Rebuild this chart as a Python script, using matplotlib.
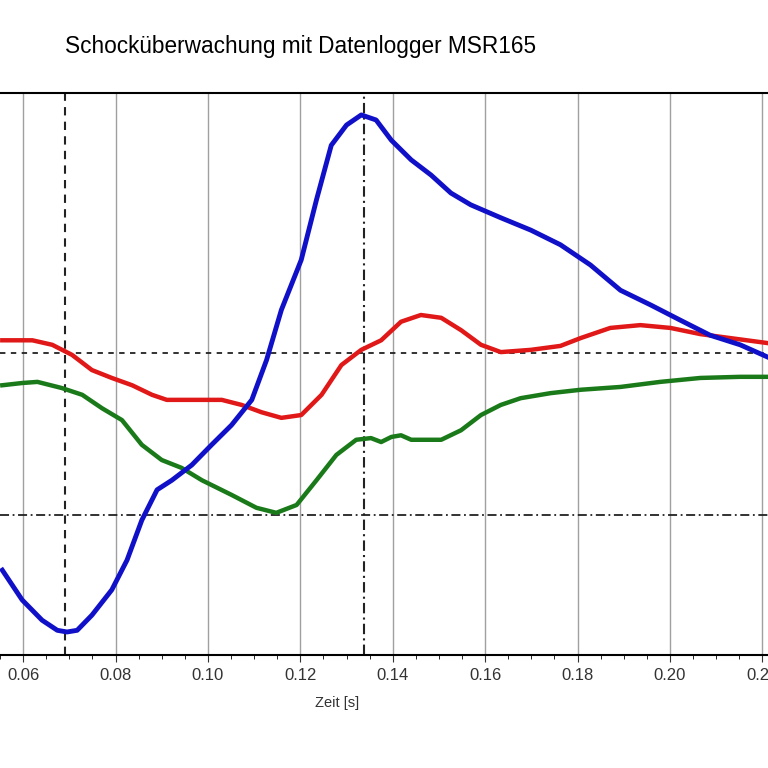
import matplotlib
matplotlib.use("Agg")
import matplotlib.pyplot as plt
import numpy as np

plt.rcParams["font.family"] = "Liberation Sans"

t_blue = [.0555, .0598, .0641, .0674, .0695, .0717, .0749, .0792, .0825, .0857, .0890, .0922, .0965,
          .1008, .1051, .1095, .1127, .1159, .1202, .1235, .1267, .1300, .1332, .1364, .1397, .1440,
          .1483, .1526, .1569, .1634, .1699, .1763, .1828, .1893, .1958, .2022, .2087, .2152, .2212]
v_blue = [15.1, 9.8, 6.2, 4.4, 4.1, 4.4, 7.1, 11.6, 16.9, 24.0, 29.4, 31.1, 33.8, 37.4, 40.9, 45.4,
          52.5, 61.4, 70.3, 81.0, 90.7, 94.3, 96.1, 95.2, 91.6, 88.1, 85.4, 82.2, 80.1, 77.8, 75.6,
          73.0, 69.4, 64.9, 62.3, 59.6, 56.9, 55.2, 53.0]

t_red = [.0555, .0620, .0663, .0706, .0749, .0792, .0836, .0879, .0911, .0965, .1030, .1073, .1116,
         .1159, .1202, .1246, .1289, .1332, .1375, .1418, .1461, .1505, .1548, .1591, .1634, .1699,
         .1763, .1807, .1871, .1936, .2001, .2066, .2130, .2212]
v_red = [56.0, 56.0, 55.2, 53.4, 50.7, 49.3, 48.0, 46.3, 45.4, 45.4, 45.4, 44.5, 43.2, 42.2, 42.7,
         46.3, 51.6, 54.3, 56.0, 59.3, 60.5, 60.0, 57.8, 55.2, 53.9, 54.3, 55.0, 56.4, 58.2, 58.7,
         58.2, 57.1, 56.4, 55.5]

t_green = [.0555, .0598, .0631, .0684, .0728, .0771, .0814, .0857, .0900, .0943, .0987, .1051, .1105,
           .1148, .1192, .1235, .1278, .1321, .1353, .1375, .1397, .1418, .1440, .1505, .1548, .1591,
           .1634, .1677, .1742, .1807, .1893, .1979, .2066, .2152, .2212]
v_green = [48.0, 48.4, 48.6, 47.5, 46.3, 43.9, 41.8, 37.4, 34.7, 33.3, 31.1, 28.5, 26.2, 25.3, 26.7,
           31.1, 35.6, 38.3, 38.6, 37.9, 38.8, 39.1, 38.3, 38.3, 40.0, 42.7, 44.5, 45.7, 46.6, 47.2,
           47.7, 48.6, 49.3, 49.5, 49.5]

x_ticks = [0.06, 0.08, 0.10, 0.12, 0.14, 0.16, 0.18, 0.20, 0.22]
cursor_t1, cursor_t2 = 0.0691, 0.1338
level_dash, level_dashdot = 53.7, 24.9

fig = plt.figure(figsize=(7.68, 7.68), dpi=100)
ax = fig.add_axes([0, 0.1471, 1, 0.7318])
ax.set_xlim(0.05547, 0.22123)
ax.set_ylim(0, 100)

ax.set_xticks(x_ticks)
ax.set_xticklabels(["%.2f" % x for x in x_ticks])
ax.set_xticks(np.arange(0.055, 0.2215, 0.005), minor=True)
ax.set_yticks([])
ax.grid(axis="x", which="major", color="#a0a0a0", lw=1)
ax.tick_params(axis="x", which="major", length=5, labelsize=12, pad=4, colors="#333333")
ax.tick_params(axis="x", which="minor", length=3)
for s in ["left", "right"]:
    ax.spines[s].set_visible(False)
ax.spines["top"].set_linewidth(1.5)
ax.spines["bottom"].set_linewidth(1.5)

ax.axvline(cursor_t1, color="#222222", ls=(0, (4, 3)), lw=1.5)
ax.axvline(cursor_t2, color="#222222", ls=(0, (5, 2, 1, 2)), lw=1.5)
ax.axhline(level_dash, color="#222222", ls=(0, (3, 3)), lw=1.3)
ax.axhline(level_dashdot, color="#222222", ls=(0, (5, 2, 1, 2)), lw=1.3)

ax.plot(t_red, v_red, color="#e01818", lw=3.2, solid_joinstyle="round")
ax.plot(t_green, v_green, color="#1a7a1a", lw=3.2, solid_joinstyle="round")
ax.plot(t_blue, v_blue, color="#1010c8", lw=3.5, solid_joinstyle="round")

fig.text(0.391, 0.939, "Schocküberwachung mit Datenlogger MSR165", ha="center", va="center", fontsize=16.3)
fig.text(0.439, 0.084, "Zeit [s]", ha="center", va="center", fontsize=10.5, color="#333333")

fig.savefig("out.png", dpi=100)
